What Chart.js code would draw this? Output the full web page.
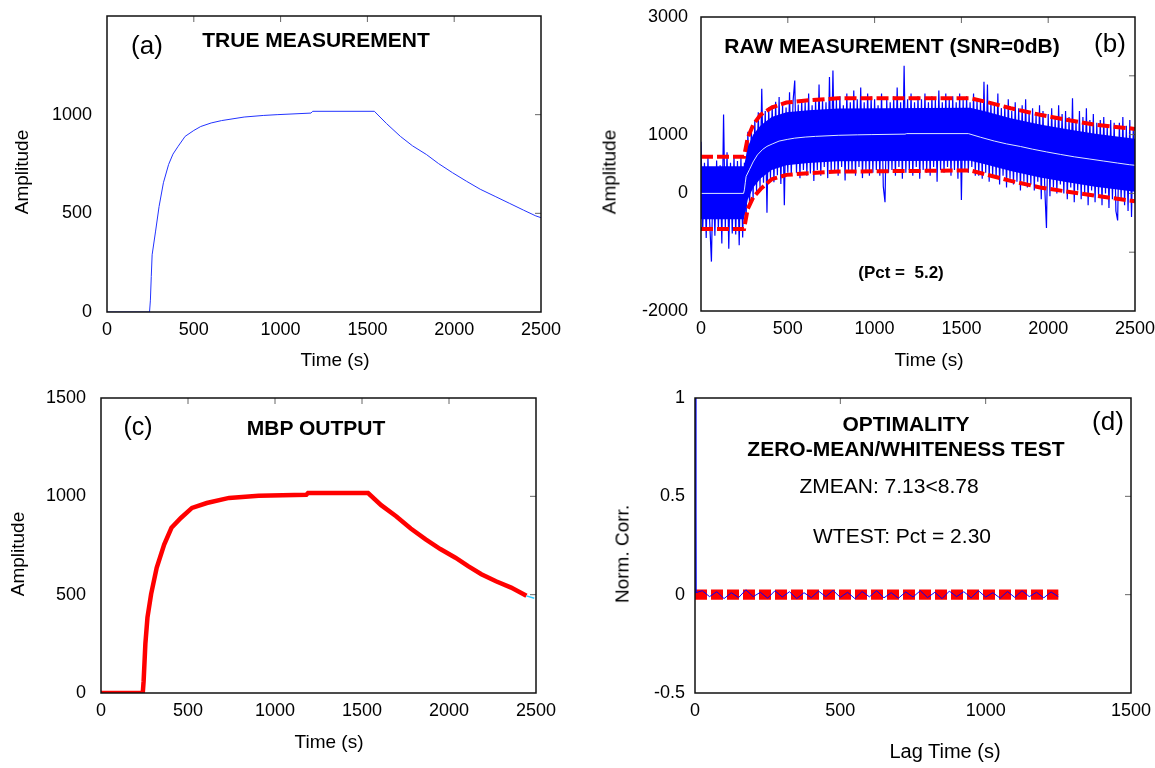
<!DOCTYPE html>
<html>
<head>
<meta charset="utf-8">
<script src="https://cdn.jsdelivr.net/npm/chart.js@4/dist/chart.umd.min.js"></script>
<style>
  body { margin: 0; background: #fff; }
  #page { position: relative; width: 1155px; height: 768px; overflow: hidden; font-family: "Liberation Sans", Arial, sans-serif; color: #000; }
  canvas { position: absolute; }
  .t { position: absolute; transform: translate(-50%, -50%); white-space: pre; line-height: 1; }
  .b { font-weight: bold; font-size: 21px; }
  .tag { font-size: 26px; }
  .ax { font-size: 19px; }
  .rot { transform: translate(-50%, -50%) rotate(-90deg); }
</style>
</head>
<body>
<div id="page">
  <canvas id="cA" style="left:0;top:0" width="578" height="384"></canvas>
  <canvas id="cB" style="left:578px;top:0" width="577" height="384"></canvas>
  <canvas id="cC" style="left:0;top:384px" width="578" height="384"></canvas>
  <canvas id="cD" style="left:578px;top:384px" width="577" height="384"></canvas>

  <div class="t tag" style="left:147px;top:45px">(a)</div>
  <div class="t b" style="left:316px;top:39px">TRUE MEASUREMENT</div>
  <div class="t ax" style="left:335px;top:359px">Time (s)</div>
  <div class="t ax rot" style="left:21px;top:172px">Amplitude</div>

  <div class="t b" style="left:892px;top:45px">RAW MEASUREMENT (SNR=0dB)</div>
  <div class="t tag" style="left:1110px;top:43px">(b)</div>
  <div class="t" style="left:901px;top:272px;font-weight:bold;font-size:17px">(Pct =  5.2)</div>
  <div class="t ax" style="left:929px;top:359px">Time (s)</div>
  <div class="t ax rot" style="left:609px;top:172px">Amplitude</div>

  <div class="t tag" style="left:138px;top:426px;font-size:25px">(c)</div>
  <div class="t b" style="left:316px;top:427px">MBP OUTPUT</div>
  <div class="t ax" style="left:329px;top:741px">Time (s)</div>
  <div class="t ax rot" style="left:17px;top:554px">Amplitude</div>

  <div class="t b" style="left:906px;top:423px">OPTIMALITY</div>
  <div class="t b" style="left:906px;top:448px">ZERO-MEAN/WHITENESS TEST</div>
  <div class="t" style="left:889px;top:485px;font-size:21px">ZMEAN: 7.13&lt;8.78</div>
  <div class="t" style="left:902px;top:535px;font-size:21px">WTEST: Pct = 2.30</div>
  <div class="t tag" style="left:1108px;top:421px">(d)</div>
  <div class="t" style="left:945px;top:751px;font-size:20px">Lag Time (s)</div>
  <div class="t ax rot" style="left:622px;top:554px">Norm. Corr.</div>
</div>
<script>
// (a) true measurement
const trueT = [0, 245, 250, 255, 260, 280, 300, 325, 355, 380, 410, 450, 500, 540, 600, 660, 790, 900, 980, 1175, 1185, 1540, 1610, 1690, 1760, 1840, 1910, 1990, 2070, 2150, 2240, 2320, 2400, 2470, 2500];
const trueY = [0, 0, 60, 180, 290, 410, 535, 655, 748, 800, 840, 890, 920, 940, 958, 970, 988, 996, 1000, 1008, 1017, 1017, 955, 890, 842, 798, 752, 706, 663, 622, 584, 550, 516, 487, 478];

// (b) raw measurement, one sample every 10 s
const rawStep = 10;
const rawY = [
  880, -640, 520, -760, 610, -480, -1160, 430, -720, 560,
  -610, 480, -850, 1340, -590, 700, -940, 520, -680, 640,
  -700, 550, -880, 620, -750, 520, -420, 1050, -230, 1120,
  -90, 1250, 40, 1380, 90, 1780, 180, 1400, -330, 1460,
  260, 1500, 190, 1560, 310, 1640, 160, 1500, -200, 1460,
  350, 1720, 300, 1560, 1920, 350, 1510, 260, 1600, 400,
  1550, 300, 1700, 340, 1500, 210, 1600, 400, 1850, 300,
  1600, 450, 1550, 260, 1980, 350, 2090, 400, 1600, 300,
  1650, 450, 1500, 220, 1700, 400, 1550, 350, 1750, 300,
  1600, 450, 1800, 260, 1550, 400, 1700, 300, 1650, 350,
  1600, 400, 1500, 300, 1700, 120, -150, 1600, 350, 1550,
  400, 1650, 300, 1800, 450, 1550, 250, 2170, 350, 1600,
  400, 1700, 300, 1550, 450, 1650, 250, 1600, 400, 1700,
  350, 1550, 300, 1650, 450, 1600, 200, 1750, 400, 1550,
  350, 1700, 450, 1600, 300, 1650, 400, 1550, 250, 1700,
  -110, 1600, 400, 1650, 350, 1550, 450, 1700, 300, 1600,
  300, 1600, 250, 1900, 350, 1850, 200, 1550, 300, 1500,
  250, 1700, 150, 1450, 300, 1500, 100, 1600, 250, 1400,
  150, 1550, 200, 1450, 50, 1500, 200, 1600, 100, 1400,
  150, 1450, 50, 1350, 200, 1500, -100, 1400, 100, -590,
  1350, -50, 1450, 100, 1300, 0, 1500, 150, 1350, 0,
  1400, -100, 1300, 100, 1620, -150, 1250, 50, 1400, -100,
  1300, 0, 1450, -200, 1250, 50, 1350, -150, 1200, -50,
  1250, -200, 1300, 0, 1150, -250, 1250, -100, 1200, -300,
  -460, 1200, -100, 1300, -200, 1150, -300, 1250, -400, 1100,
  -150
];
// dashed bounds and the dense core of the noise
const bandT = [0, 248, 269, 301, 343, 407, 492, 619, 788, 1551, 1636, 1784, 1953, 2102, 2271, 2500];
const upperY = [624, 624, 944, 1169, 1337, 1461, 1545, 1584, 1618, 1618, 1562, 1449, 1337, 1253, 1169, 1096];
const lowerY = [-607, -607, -264, -67, 73, 242, 315, 343, 371, 390, 326, 213, 101, 34, -39, -135];
const coreHi = [460, 460, 790, 1000, 1155, 1300, 1380, 1415, 1445, 1455, 1395, 1280, 1170, 1095, 1015, 930];
const coreLo = [-440, -440, -110, 100, 255, 400, 480, 515, 545, 555, 495, 380, 270, 195, 115, 30];

// (c) MBP output
const mbpT = [0, 240, 245, 255, 267, 288, 320, 363, 405, 459, 523, 608, 736, 906, 1180, 1190, 1535, 1610, 1696, 1780, 1866, 1950, 2037, 2110, 2186, 2270, 2357, 2445];
const mbpY = [0, 0, 60, 250, 384, 503, 637, 755, 840, 890, 941, 966, 992, 1003, 1008, 1017, 1017, 955, 899, 836, 781, 732, 688, 645, 604, 568, 536, 494];
const tailT = [2445, 2490];
const tailY = [494, 482];

// (d) whiteness test
const corrT = [0, 3, 25, 50, 75, 100, 125, 150, 175, 200, 225, 250, 275, 300, 325, 350, 375, 400, 425, 450, 475, 500,
  525, 550, 575, 600, 625, 650, 675, 700, 725, 750, 775, 800, 825, 850, 875, 900, 925, 950, 975, 1000,
  1025, 1050, 1075, 1100, 1125, 1150, 1175, 1200, 1225, 1250];
const corrY = [1, 0.01, 0.02, -0.01, 0.015, -0.02, 0.01, -0.015, 0.025, -0.01, 0.012, -0.018, 0.02, -0.012, 0.015, -0.02,
  0.01, -0.015, 0.018, -0.01, 0.022, -0.014, 0.012, -0.02, 0.016, -0.011, 0.02, -0.016, 0.01, -0.018, 0.014, -0.012,
  0.02, -0.015, 0.012, -0.02, 0.018, -0.01, 0.015, -0.016, 0.02, -0.012, 0.01, -0.018, 0.016, -0.014, 0.02, -0.01,
  0.012, -0.016, 0.014, -0.01];
const limT = [0, 1250];
const limHi = [0.012, 0.012];
const limLo = [-0.012, -0.012];

const pts = (xs, ys) => ys.map((y, i) => ({x: xs[i], y}));

const frame = {
  id: 'frame',
  afterDatasetsDraw(chart) {
    const {ctx, chartArea: a, scales} = chart;
    ctx.save();
    ctx.strokeStyle = '#666';
    ctx.lineWidth = 1;
    scales.x.ticks.forEach(t => {
      const px = scales.x.getPixelForValue(t.value);
      if (px < a.left + 2 || px > a.right - 2) return;
      ctx.beginPath(); ctx.moveTo(px, a.top); ctx.lineTo(px, a.top + 6); ctx.stroke();
    });
    scales.y.ticks.forEach(t => {
      const py = scales.y.getPixelForValue(t.value);
      if (py < a.top + 2 || py > a.bottom - 2) return;
      ctx.beginPath(); ctx.moveTo(a.right, py); ctx.lineTo(a.right - 6, py); ctx.stroke();
    });
    ctx.strokeStyle = '#111';
    ctx.lineWidth = 1.5;
    ctx.strokeRect(a.left, a.top, a.right - a.left, a.bottom - a.top);
    ctx.restore();
  }
};

const tickFont = {family: '"Liberation Sans", Arial, sans-serif', size: 18};

function makeChart(id, datasets, xMax, yMin, yMax, yStep, yLabels, pad, yPad) {
  new Chart(document.getElementById(id), {
    type: 'line',
    data: {datasets},
    plugins: [frame],
    options: {
      responsive: false,
      animation: false,
      events: [],
      layout: {padding: pad},
      elements: {point: {radius: 0}, line: {tension: 0}},
      plugins: {legend: {display: false}, tooltip: {enabled: false}},
      scales: {
        x: {
          type: 'linear', min: 0, max: xMax,
          grid: {display: false, drawTicks: false}, border: {display: false},
          ticks: {stepSize: 500, padding: 7, color: '#000', font: tickFont, maxRotation: 0, autoSkip: false,
            callback: v => String(v)},
          afterFit: s => { s.height = 40; s.paddingLeft = 0; s.paddingRight = 0; }
        },
        y: {
          min: yMin, max: yMax,
          grid: {display: false, drawTicks: false}, border: {display: false},
          ticks: {
            stepSize: yStep, padding: yPad, color: '#000', font: tickFont, autoSkip: false,
            callback: v => yLabels.includes(v) ? String(v) : ''
          },
          afterFit: s => { s.width = 60; s.paddingTop = 0; s.paddingBottom = 0; }
        }
      }
    }
  });
}

makeChart('cA', [
  {data: pts(trueT, trueY), borderColor: '#2233ff', borderWidth: 1}
], 2500, 0, 1500, 500, [0, 500, 1000], {left: 47, right: 37, top: 16, bottom: 32}, 15);

makeChart('cB', [
  {data: pts(bandT, upperY), borderColor: '#ff0000', borderWidth: 4, borderDash: [12, 4], order: 0},
  {data: pts(bandT, lowerY), borderColor: '#ff0000', borderWidth: 4, borderDash: [12, 4], order: 0},
  {data: pts(trueT, trueY), borderColor: '#dde8ff', borderWidth: 1, order: 1},
  {data: rawY.map((y, i) => ({x: i * rawStep, y})), borderColor: '#0000ff', borderWidth: 1.2, order: 2},
  {data: pts(bandT, coreHi), borderWidth: 0, borderColor: 'rgba(0,0,0,0)', backgroundColor: '#0000ff', fill: '+1', order: 3},
  {data: pts(bandT, coreLo), borderWidth: 0, borderColor: 'rgba(0,0,0,0)', fill: false, order: 3}
], 2500, -2000, 3000, 1000, [3000, 1000, 0, -2000], {left: 63, right: 20, top: 17, bottom: 33}, 13);

makeChart('cC', [
  {data: pts(tailT, tailY), borderColor: '#33ccff', borderWidth: 1.5},
  {data: pts(mbpT, mbpY), borderColor: '#ff0000', borderWidth: 4.5}
], 2500, 0, 1500, 500, [0, 500, 1000, 1500], {left: 41, right: 42, top: 14, bottom: 35}, 15);

makeChart('cD', [
  {data: pts(corrT, corrY), borderColor: '#0000ff', borderWidth: 1, order: 0},
  {data: pts(limT, limHi), borderColor: '#ff0000', borderWidth: 5.5, borderDash: [12, 4], order: 1},
  {data: pts(limT, limLo), borderColor: '#ff0000', borderWidth: 5.5, borderDash: [12, 4], order: 1}
], 1500, -0.5, 1, 0.5, [-0.5, 0, 0.5, 1], {left: 57, right: 24, top: 14, bottom: 35}, 10);
</script>
</body>
</html>
